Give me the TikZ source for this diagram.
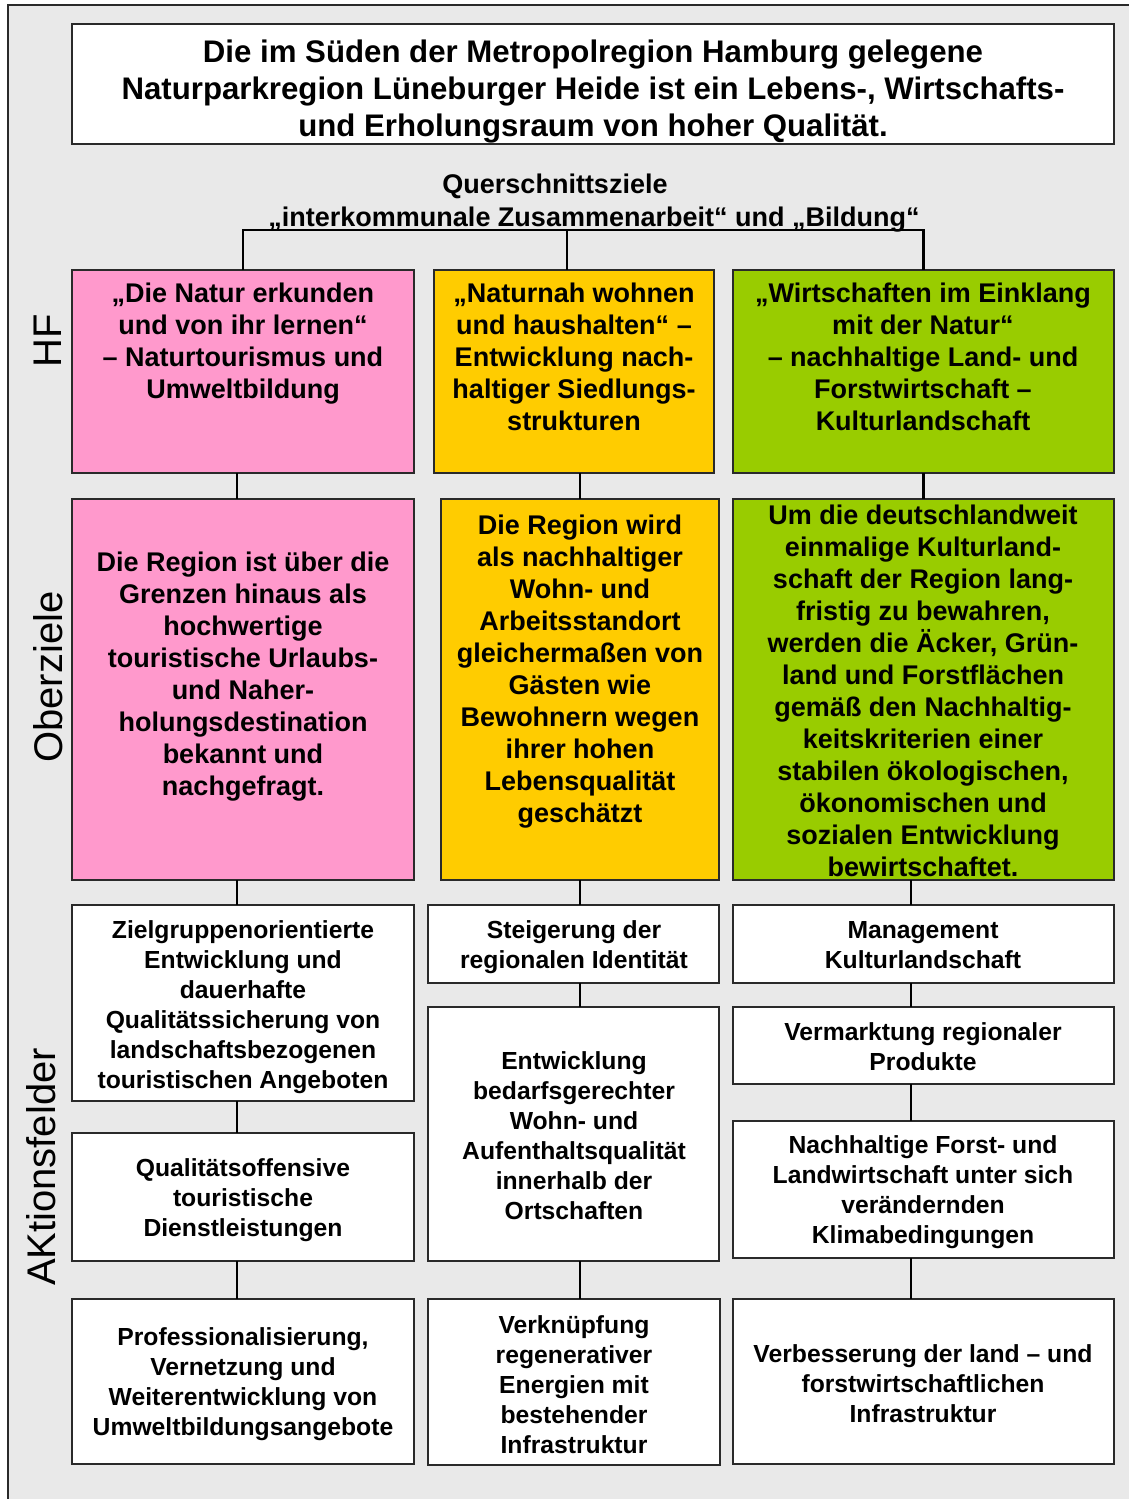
\documentclass[tikz,border=0pt]{standalone}
\usepackage{fontspec}
\setmainfont{Liberation Sans}
\definecolor{bg}{HTML}{E9E9E9}
\definecolor{pinkf}{HTML}{FF99CC}
\definecolor{yelf}{HTML}{FFCC00}
\definecolor{grnf}{HTML}{99CC00}
\definecolor{edge}{HTML}{2A2A2A}
\begin{document}
\begin{tikzpicture}[x=1pt,y=-1pt,
  box/.style={draw=edge, line width=1.6pt, rectangle, inner sep=0pt, outer sep=0pt, anchor=north west},
  ttitle/.style={font=\fontsize{31.2}{37}\selectfont\bfseries, align=center, inner sep=0pt},
  tbig/.style={font=\fontsize{27}{32}\selectfont\bfseries, align=center, inner sep=0pt},
  tsmall/.style={font=\fontsize{24.7}{30}\selectfont\bfseries, align=center, inner sep=0pt},
  side/.style={font=\fontsize{40}{46}\selectfont, rotate=90, inner sep=0pt},
  conn/.style={draw=black, line width=2.6pt},
]
\useasboundingbox (0,0) rectangle (1128,1499);
\fill[white] (0,0) rectangle (1128,1499);
\fill[bg] (8,5) rectangle (1140,1510);
\draw[line width=1.6pt, edge] (8,1510) -- (8,5) -- (1140,5);

% boxes
\node[box, fill=white, minimum width=1042pt, minimum height=120pt] (title) at (72,24) {};
\node[box, fill=pinkf, minimum width=342pt, minimum height=203pt] (hf1) at (72,270) {};
\node[box, fill=yelf,  minimum width=280pt, minimum height=203pt] (hf2) at (434,270) {};
\node[box, fill=grnf,  minimum width=381pt, minimum height=203pt] (hf3) at (733,270) {};
\node[box, fill=pinkf, minimum width=342pt, minimum height=381pt] (ob1) at (72,499) {};
\node[box, fill=yelf,  minimum width=278pt, minimum height=381pt] (ob2) at (441,499) {};
\node[box, fill=grnf,  minimum width=381pt, minimum height=381pt] (ob3) at (733,499) {};
\node[box, fill=white, minimum width=342pt, minimum height=196pt] (l1) at (72,905) {};
\node[box, fill=white, minimum width=342pt, minimum height=128pt] (l2) at (72,1133) {};
\node[box, fill=white, minimum width=342pt, minimum height=165pt] (l3) at (72,1299) {};
\node[box, fill=white, minimum width=291pt, minimum height=78pt] (m1) at (428,905) {};
\node[box, fill=white, minimum width=291pt, minimum height=254pt] (m2) at (428,1007) {};
\node[box, fill=white, minimum width=292pt, minimum height=166pt] (m3) at (428,1299) {};
\node[box, fill=white, minimum width=381pt, minimum height=78pt] (r1) at (733,905) {};
\node[box, fill=white, minimum width=381pt, minimum height=77pt] (r2) at (733,1007) {};
\node[box, fill=white, minimum width=381pt, minimum height=137pt] (r3) at (733,1121) {};
\node[box, fill=white, minimum width=381pt, minimum height=165pt] (r4) at (733,1299) {};

% texts
\node[ttitle] (titlet) at (593,92) {Die im Süden der Metropolregion Hamburg gelegene\\Naturparkregion Lüneburger Heide ist ein Lebens-, Wirtschafts-\\und Erholungsraum von hoher Qualität.};
\node[tbig] (q1) at (555,186) {Querschnittsziele};
\node[tbig] (q2) at (594,220) {„interkommunale Zusammenarbeit“ und „Bildung“};

\node[tbig] (hf1t) at (243,344) {„Die Natur erkunden\\und von ihr lernen“\\– Naturtourismus und\\Umweltbildung};
\node[tbig] (hf2t) at (574,357) {„Naturnah wohnen\\und haushalten“ –\\Entwicklung nach-\\haltiger Siedlungs-\\strukturen};
\node[tbig] (hf3t) at (923,357) {„Wirtschaften im Einklang\\mit der Natur“\\– nachhaltige Land- und\\Forstwirtschaft –\\Kulturlandschaft};

\node[tbig] (ob1t) at (243,677) {Die Region ist über die\\Grenzen hinaus als\\hochwertige\\touristische Urlaubs-\\und Naher-\\holungsdestination\\bekannt und\\nachgefragt.};
\node[tbig] (ob2t) at (580,672) {Die Region wird\\als nachhaltiger\\Wohn- und\\Arbeitsstandort\\gleichermaßen von\\Gästen wie\\Bewohnern wegen\\ihrer hohen\\Lebensqualität\\geschätzt};
\node[tbig] (ob3t) at (923,691) {Um die deutschlandweit\\einmalige Kulturland-\\schaft der Region lang-\\fristig zu bewahren,\\werden die Äcker, Grün-\\land und Forstflächen\\gemäß den Nachhaltig-\\keitskriterien einer\\stabilen ökologischen,\\ökonomischen und\\sozialen Entwicklung\\bewirtschaftet.};

\node[tsmall] (l1t) at (243,1007) {Zielgruppenorientierte\\Entwicklung und\\dauerhafte\\Qualitätssicherung von\\landschaftsbezogenen\\touristischen Angeboten};
\node[tsmall] (l2t) at (243,1200) {Qualitätsoffensive\\touristische\\Dienstleistungen};
\node[tsmall] (l3t) at (243,1384) {Professionalisierung,\\Vernetzung und\\Weiterentwicklung von\\Umweltbildungsangebote};
\node[tsmall] (m1t) at (574,947) {Steigerung der\\regionalen Identität};
\node[tsmall] (m2t) at (574,1136) {Entwicklung\\bedarfsgerechter\\Wohn- und\\Aufenthaltsqualität\\innerhalb der\\Ortschaften};
\node[tsmall] (m3t) at (574,1385) {Verknüpfung\\regenerativer\\Energien mit\\bestehender\\Infrastruktur};
\node[tsmall] (r1t) at (923,945) {Management\\Kulturlandschaft};
\node[tsmall] (r2t) at (923,1047) {Vermarktung regionaler\\Produkte};
\node[tsmall] (r3t) at (923,1192) {Nachhaltige Forst- und\\Landwirtschaft unter sich\\verändernden\\Klimabedingungen};
\node[tsmall] (r4t) at (923,1384) {Verbesserung der land – und\\forstwirtschaftlichen\\Infrastruktur};

% side labels
\node[side] (sHF) at (48,341) {HF};
\node[side] (sOB) at (48,677) {Oberziele};
\node[side] (sAK) at (41,1167) {AKtionsfelder};

% connectors
\coordinate (qj) at (567,230);
\draw[conn, line width=2.2pt] (hf1.north) |- (qj) -| (hf3.north);
\draw[draw=black, line width=1.2pt] (qj) -- (qj |- hf2.north);

\draw[conn] ([xshift=-6pt]hf1.south) -- ([xshift=-6pt]ob1.north);
\draw[conn] ([xshift=-6pt]ob1.south) -- ([xshift=-6pt]l1.north);
\draw[conn] ([xshift=-6pt]l1.south) -- ([xshift=-6pt]l2.north);
\draw[conn] ([xshift=-6pt]l2.south) -- ([xshift=-6pt]l3.north);

\draw[conn] (ob2.north) -- (ob2.north |- hf2.south);
\draw[conn] (ob2.south) -- (ob2.south |- m1.north);
\draw[conn] (m1.south -| ob2.south) -- (m2.north -| ob2.south);
\draw[conn] (m2.south -| ob2.south) -- (m3.north -| ob2.south);

\draw[conn] (hf3.south) -- (ob3.north);
\draw[conn] ([xshift=-12.5pt]ob3.south) -- ([xshift=-12.5pt]r1.north);
\draw[conn] ([xshift=-12.5pt]r1.south) -- ([xshift=-12.5pt]r2.north);
\draw[conn] ([xshift=-12.5pt]r2.south) -- ([xshift=-12.5pt]r3.north);
\draw[conn] ([xshift=-12.5pt]r3.south) -- ([xshift=-12.5pt]r4.north);
\end{tikzpicture}
\end{document}
